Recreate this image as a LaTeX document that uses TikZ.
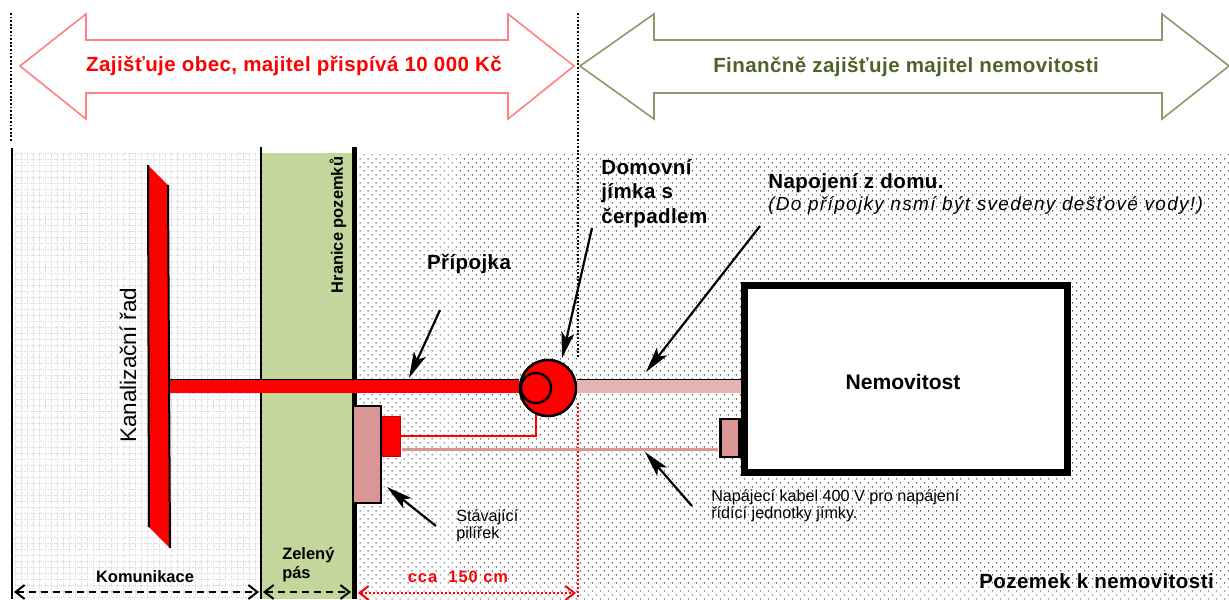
\documentclass[tikz,border=0pt]{standalone}
\usepackage{fontspec}
\usepackage{xcolor}
\setmainfont{Liberation Sans}
\usetikzlibrary{
    arrows.meta,
    calc,
    patterns.meta
}
\newcommand{\px}{0.025cm}
\newcommand{\rozpal}[1]{\addfontfeature{LetterSpace=#1}}
\definecolor{zelenypas}{HTML}{C3D69B}
\definecolor{olivova}{HTML}{8A9A6B}
\definecolor{olivatext}{HTML}{4F6228}
\definecolor{rezova}{HTML}{D99694}
\definecolor{svetla}{HTML}{E6B4B4}
\tikzset{
    plotdots/.style={pattern={Dots[distance=5.66*\px, radius=0.7*\px, angle=45]}, pattern color=black},
    roadgrid/.style={draw=black!12, line width=0.8*\px, dash pattern=on 1.5*\px off 0.8*\px},
    boundline/.style={draw=black, dash pattern=on 1.8*\px off 1.8*\px, line width=2.2*\px},
    redbound/.style={draw=red, dash pattern=on 2*\px off 2*\px, line width=2.2*\px},
    bigarrow/.style={fill=white, line width=1.6*\px, line join=miter},
    kolmo/.style={line width=2.4*\px},
    tlusta/.style={line width=5*\px},
    pipe/.style={line width=13*\px},
    pipeedge/.style={draw=black, line width=1.2*\px},
    cable/.style={line width=2.2*\px},
    callout/.style={draw=black, line width=2.2*\px, -{Stealth[length=26*\px, width=13*\px, inset=6*\px]}},
    dimdash/.style={line width=2*\px, dash pattern=on 7*\px off 5*\px, {Straight Barb[length=9*\px, width=14*\px]}-{Straight Barb[length=9*\px, width=14*\px]}},
    dimred/.style={draw=red, line width=2*\px, dash pattern=on 2*\px off 2*\px, {Straight Barb[length=9*\px, width=14*\px]}-{Straight Barb[length=9*\px, width=14*\px]}},
    boxpil/.style={draw=black, fill=rezova, line width=2.4*\px, minimum width=28*\px, minimum height=97*\px, inner sep=0pt},
    boxred/.style={draw=red!80!black, fill=red, line width=1*\px, minimum width=18*\px, minimum height=40*\px, inner sep=0pt},
    boxsmall/.style={draw=black, fill=rezova, line width=2.4*\px, minimum width=19*\px, minimum height=38*\px, inner sep=0pt},
    round/.style={draw=black, fill=red, circle, line width=2.4*\px, inner sep=0pt},
    house/.style={draw=black, fill=white, line width=7*\px, minimum width=323*\px, minimum height=187*\px, inner sep=0pt},
    big/.style={inner sep=0pt, font=\bfseries\fontsize{14.6pt}{17.7pt}\selectfont\rozpal{2}},
    mid/.style={inner sep=0pt, font=\bfseries\fontsize{11.7pt}{13.4pt}\selectfont},
    small/.style={inner sep=0pt, font=\fontsize{11.5pt}{12pt}\selectfont}
}

\begin{document}
\begin{tikzpicture}[x=\px, y=-\px]
    \useasboundingbox (0, 0) rectangle (1229, 599);
    \fill[white] (0, 0) rectangle (1229, 599);

    \foreach \x in {15,21,...,259} {
        \draw[roadgrid] (\x, 153) -- (\x, 599);
    }
    \foreach \y in {153,159,...,599} {
        \draw[roadgrid] (15, \y) -- (259, \y);
    }
    \fill[zelenypas] (261, 153) rectangle (352, 599);
    \fill[plotdots] (356, 153) rectangle (1229, 599);

    \coordinate (boundA) at (11, 13);
    \coordinate (boundB) at (11, 142);
    \coordinate (boundC) at (578, 13);
    \coordinate (boundD) at (578, 358);
    \coordinate (boundE) at (578, 403);
    \coordinate (boundF) at (578, 599);
    \draw[boundline] (boundA) -- (boundB);
    \draw[boundline] (boundC) -- (boundD);
    \draw[redbound] (boundE) -- (boundF);

    \draw[red!50, bigarrow] (20, 66) -- (86, 14) -- (86, 40) -- (508, 40) -- (508, 14)
        -- (574, 66) -- (508, 119) -- (508, 93) -- (86, 93) -- (86, 119) -- cycle;
    \draw[olivova, bigarrow] (580, 66) -- (654, 14) -- (654, 40) -- (1162, 40) -- (1162, 14)
        -- (1229, 66) -- (1162, 119) -- (1162, 93) -- (654, 93) -- (654, 119) -- cycle;

    \coordinate (roadT) at (12, 148);
    \coordinate (roadB) at (12, 599);
    \coordinate (pasT) at (261, 147);
    \coordinate (pasB) at (261, 599);
    \coordinate (hranT) at (354, 147);
    \coordinate (hranB) at (354, 599);
    \draw[kolmo] (roadT) -- (roadB);
    \draw[kolmo] (pasT) -- (pasB);
    \draw[tlusta] (hranT) -- (hranB);

    \fill[red] (148, 165) -- (168, 185) -- (170, 548) -- (149, 527) -- cycle;
    \draw[line width=2*\px] (148, 165) -- (149, 527);
    \draw[line width=2*\px] (168, 185) -- (170, 548);

    \node[house] (nemovitost) at (906, 379) {};
    \node[round, minimum size=56*\px] (jimka) at (548, 388) {};
    \node[boxpil] (pilir) at (367, 454.5) {};
    \node[boxred] (rele) at (391, 436) {};
    \node[boxsmall] (skrin) at (730, 438) {};

    \coordinate (radPoint) at (170, 386);
    \coordinate (cableCorner) at (536, 436);
    \coordinate (cableTop) at (536, 410);
    \coordinate (kabelL) at (402, 449.5);
    \coordinate (kabelR) at (718, 449.5);
    \draw[pipe, red] (radPoint) -- (jimka.west |- radPoint);
    \draw[pipeedge] ([yshift=6.5*\px]radPoint) -- ([yshift=6.5*\px]jimka.west |- radPoint);
    \draw[pipe, svetla] (jimka.east |- radPoint) -- (nemovitost.west |- radPoint);
    \draw[pipeedge] ([yshift=6.5*\px]jimka.east |- radPoint) -- ([yshift=6.5*\px]nemovitost.west |- radPoint);
    \draw[cable, red] (rele.east |- cableCorner) -- (cableCorner) -- (cableTop);
    \draw[cable, rezova] (kabelL) -- (kabelR);

    \node[round, minimum size=56*\px] (jimkaTop) at (548, 388) {};
    \node[round, minimum size=30*\px] (cerpadlo) at (536, 388) {};

    \coordinate (pripojkaA) at (440, 310);
    \coordinate (pripojkaB) at (409, 378);
    \coordinate (jimkaA) at (592, 228);
    \coordinate (jimkaB) at (562, 358);
    \coordinate (domA) at (760, 226);
    \coordinate (domB) at (646, 372);
    \coordinate (pilirA) at (436, 526);
    \coordinate (pilirB) at (387, 487);
    \coordinate (kabelA) at (692, 506);
    \coordinate (kabelB) at (645, 452);
    \draw[callout] (pripojkaA) -- (pripojkaB);
    \draw[callout] (jimkaA) -- (jimkaB);
    \draw[callout] (domA) -- (domB);
    \draw[callout] (pilirA) -- (pilirB);
    \draw[callout] (kabelA) -- (kabelB);

    \coordinate (dimA) at (14, 592);
    \coordinate (dimB) at (259, 592);
    \coordinate (dimC) at (263, 592);
    \coordinate (dimD) at (351, 592);
    \coordinate (dimE) at (358, 593);
    \coordinate (dimF) at (576, 593);
    \draw[dimdash] (dimA) -- (dimB);
    \draw[dimdash] (dimC) -- (dimD);
    \draw[dimred] (dimE) -- (dimF);

    \node[big, red] (obec) at (294, 66) {Zajišťuje obec, majitel přispívá 10 000 Kč};
    \node[big, olivatext] (majitel) at (906, 67) {Finančně zajišťuje majitel nemovitosti};
    \node[font=\fontsize{16pt}{18pt}\selectfont, rotate=90, inner sep=0pt] (rad) at (128, 365) {Kanalizační řad};
    \node[mid, rotate=90] (hranice) at (338, 225) {Hranice pozemků};
    \node[big] (pripojka) at (469, 264) {Přípojka};
    \node[big, align=left, anchor=west] (domovni) at (601, 193.5) {Domovní\\jímka s\\čerpadlem};
    \node[big, anchor=west] (napojeni) at (768, 183) {Napojení z domu.};
    \node[inner sep=0pt, anchor=west, font=\itshape\fontsize{13.5pt}{15pt}\selectfont\rozpal{7}] (voda) at (768, 205) {(Do přípojky nsmí být svedeny dešťové vody!)};
    \node[inner sep=0pt, font=\bfseries\fontsize{15pt}{17pt}\selectfont] (nazev) at (903, 382) {Nemovitost};
    \node[small, align=left, anchor=west] (stavajici) at (456, 526) {Stávající\\pilířek};
    \node[small, align=left, anchor=west] (napajeci) at (711, 506) {Napájecí kabel 400 V pro napájení\\řídící jednotky jímky.};
    \node[mid] (komunikace) at (145, 577) {Komunikace};
    \node[mid, align=left, anchor=west] (zeleny) at (282, 565) {Zelený\\pás};
    \node[mid, red, font=\bfseries\fontsize{11.7pt}{13.4pt}\selectfont\rozpal{6}] (cca) at (458, 577) {cca\ \ 150 cm};
    \node[big, anchor=east] (pozemek) at (1214, 581) {Pozemek k nemovitosti};
\end{tikzpicture}
\end{document}
